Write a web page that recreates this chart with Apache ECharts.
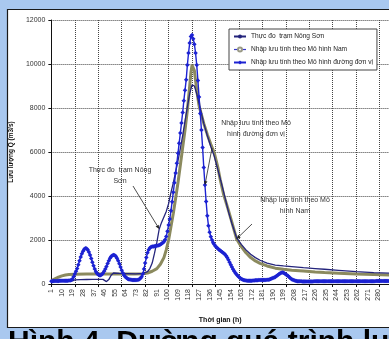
<!DOCTYPE html>
<html><head><meta charset="utf-8">
<script src="https://cdn.jsdelivr.net/npm/echarts@6/dist/echarts.min.js"></script>
<style>html,body{margin:0;padding:0;background:#a9c8ef;overflow:hidden}#c{width:389px;height:339px}</style>
</head><body><div id="c"></div>
<script>
// ---- data (x = hour index, axis label = index + 1) ----
const seriesNames = ['Thực đo  trạm Nông Sơn', 'Nhập lưu tính theo Mô hình Nam', 'Nhập lưu tính theo Mô hình đường đơn vị'];
const yTicks = [0, 2000, 4000, 6000, 8000, 10000, 12000];
const xLabelStep = 9;      // labels 1, 10, 19, ...
const xGridStep = 20;      // tick marks / gridlines
const xMaxIndex = 288;
const yAxisName = 'Lưu lượng Q (m3/s)';
const xAxisName = 'Thời gian (h)';

// unit-hydrograph model, hourly values
const unitQ = [
 130,130,135,135,140,140,140,145,145,150,
 150,150,150,150,150,155,160,180,230,330,
 450,580,700,880,1060,1230,1370,1490,1580,1620,
 1610,1560,1460,1320,1160,990,830,680,560,480,
 430,400,400,430,490,580,680,800,930,1060,
 1170,1250,1300,1320,1310,1260,1170,1060,920,770,
 620,500,400,330,280,240,215,200,190,185,
 180,180,180,185,195,220,260,330,460,680,
 950,1200,1420,1560,1640,1680,1700,1710,1720,1730,
 1740,1750,1770,1800,1830,1870,1920,2010,2160,2400,
 2680,2960,3330,3740,4170,4600,5040,5490,5940,6400,
 6860,7320,7800,8330,8810,9280,9950,10500,10950,11250,
 11320,11150,10900,10500,9950,9250,8500,7750,7000,6200,
 5300,4500,3750,3100,2650,2350,2150,2000,1880,1790,
 1720,1660,1610,1560,1520,1480,1440,1400,1350,1280,
 1200,1100,990,880,770,670,580,500,430,370,
 320,270,230,200,180,165,155,150,150,150,
 150,150,155,160,165,170,175,180,180,180,
 180,180,180,185,190,195,210,230,250,270,
 290,320,360,400,440,480,510,520,510,480,
 440,400,360,310,260,220,190,170,150,140,
 130,125,120,120,115,115,115,115,115,115,
 115,115,118,118,120,120,120,120,120,120,
 120,120,122,122,122,122,122,124,124,124,
 124,124,125,125,125,125,125,126,126,126,
 126,126,127,127,127,127,128,128,128,128,
 128,128,128,129,129,129,129,129,130,130,
 130,130,130,130,130,130,130,131,131,131,
 131,131,131,132,132,132,132,132,132
];

// Nam model
const namT = [0,3,6,9,12,15,20,30,40,50,60,70,78,82,86,90,93,96,98,100,102,104,106,108,110,112,114,116,118,119,120,121,122,124,126,128,130,133,136,139,142,144,147,151,154,158,162,166,170,174,178,184,191,198,205,215,225,233,245,260,275,288];
const namQ = [150,230,310,370,410,430,440,450,450,460,460,460,470,500,580,700,900,1200,1550,2000,2600,3200,3900,4600,5400,6200,7000,7900,9000,9600,9950,9900,9700,8800,8100,7700,7300,6800,6350,5950,5300,4750,4050,3360,2800,2050,1700,1420,1200,1050,940,820,720,670,630,590,550,520,490,450,430,410];

// observed at Nông Sơn
const obsT = [0,5,10,15,18,20,25,30,35,40,44,45,47,49,51,53,58,65,72,78,82,84,86,88,90,92,94,96,98,100,102,104,106,108,110,112,114,116,118,120,121,122,124,126,128,130,133,136,139,142,145,148,151,154,158,162,166,170,174,178,184,191,198,205,215,225,233,245,260,275,288];
const obsQ = [120,120,125,130,140,190,200,205,210,210,210,150,110,200,400,500,480,470,460,480,560,700,950,1400,1900,2500,2800,3050,3300,3650,4150,4600,5100,5600,6150,6750,7400,8050,8650,9050,9100,9000,8650,8200,7750,7300,6750,6250,5800,5200,4600,3950,3300,2750,2100,1800,1550,1350,1200,1080,950,860,820,790,740,700,670,620,560,520,490];

// ---- chart ----
const FONT = 'Liberation Sans';
const chart = echarts.init(document.getElementById('c'), null, {renderer: 'canvas'});
const dotted = {color: '#444', width: 1, type: [1, 1]};
const grid = {left: 43, top: 20, width: 346.8, height: 264};

chart.setOption({
  animation: false,
  textStyle: {fontFamily: FONT},
  grid: grid,
  legend: {
    orient: 'vertical', left: 229, top: 29,
    padding: [4, 4, 4, 4], itemGap: 6, itemWidth: 12, itemHeight: 5,
    backgroundColor: '#fff', borderColor: '#444', borderWidth: 1,
    textStyle: {fontSize: 6.6, color: '#222', fontFamily: FONT},
    data: [
      {name: seriesNames[0]},
      {name: seriesNames[1], lineStyle: {color: '#3636c8', width: 1.2}, itemStyle: {color: '#9a9a86'}},
      {name: seriesNames[2]}
    ]
  },
  xAxis: [
    {
      type: 'value', min: 0, max: xMaxIndex, interval: xLabelStep,
      name: xAxisName, nameLocation: 'middle', nameGap: 33,
      nameTextStyle: {fontSize: 7, fontWeight: 'bold', color: '#111', fontFamily: FONT},
      axisLine: {show: true, lineStyle: {color: '#111', width: 1}},
      axisTick: {show: false}, splitLine: {show: false},
      axisLabel: {rotate: 90, fontSize: 7, color: '#333', margin: 5, showMaxLabel: false,
                  formatter: v => String(v + 1)}
    },
    {
      type: 'value', min: 0, max: xMaxIndex, interval: xGridStep, position: 'bottom',
      axisLine: {show: false}, axisLabel: {show: false},
      axisTick: {show: true, length: 3, inside: false, lineStyle: {color: '#111'}},
      splitLine: {show: true, lineStyle: dotted}
    }
  ],
  yAxis: {
    type: 'value', min: yTicks[0], max: yTicks[yTicks.length - 1], interval: yTicks[1] - yTicks[0],
    name: yAxisName, nameLocation: 'middle', nameGap: 25, nameRotate: 90,
    nameTextStyle: {fontSize: 6.5, fontWeight: 'bold', color: '#111', fontFamily: FONT},
    axisLine: {show: true, lineStyle: {color: '#111', width: 1}},
    axisTick: {show: true, length: 3, lineStyle: {color: '#111'}},
    splitLine: {show: true, lineStyle: dotted},
    axisLabel: {fontSize: 7, color: '#333', margin: 6, formatter: v => String(v)}
  },
  series: [
    {
      name: seriesNames[1], type: 'line', z: 3,
      data: namT.map((t, i) => [t, namQ[i]]),
      symbol: 'emptyCircle', symbolSize: 3, showSymbol: false,
      lineStyle: {color: '#8b8a5e', width: 3}, itemStyle: {color: '#8b8a5e'}
    },
    {
      name: seriesNames[0], type: 'line', z: 4,
      data: obsT.map((t, i) => [t, obsQ[i]]),
      symbol: 'none',
      lineStyle: {color: '#24247c', width: 1.3}, itemStyle: {color: '#24247c'}
    },
    {
      name: seriesNames[2], type: 'line', z: 5,
      data: unitQ.map((q, i) => [i, q]),
      symbol: 'diamond', symbolSize: 4.5,
      lineStyle: {color: '#1c22d2', width: 1.4}, itemStyle: {color: '#1c22d2'}
    }
  ]
});

function px(t, q) { return chart.convertToPixel({xAxisIndex: 0, yAxisIndex: 0}, [t, q]); }
function arrow(from, to) {
  const dx = to[0] - from[0], dy = to[1] - from[1];
  const L = Math.sqrt(dx * dx + dy * dy), ux = dx / L, uy = dy / L;
  const s = 4, w = 1.8;
  const bx = to[0] - ux * s, by = to[1] - uy * s;
  return [
    {type: 'line', z: 50, shape: {x1: from[0], y1: from[1], x2: bx, y2: by}, style: {stroke: '#222', lineWidth: 0.8}},
    {type: 'polygon', z: 50, shape: {points: [[to[0], to[1]], [bx - uy * w, by + ux * w], [bx + uy * w, by - ux * w]]}, style: {fill: '#222'}}
  ];
}
const annStyle = {fontSize: 7, fill: '#333', fontFamily: FONT, align: 'center', lineHeight: 11};
const oi = obsT.indexOf(92), ni = namT.indexOf(158), ui = 131;
const gfx = [
  {type: 'rect', z: -100, silent: true, shape: {x: 7.5, y: 9.5, width: 400, height: 318}, style: {fill: '#fff', stroke: '#1a1a1a', lineWidth: 1.2}},
  {type: 'text', z: 50, x: 120, y: 165, style: Object.assign({text: 'Thực đo  trạm Nông\nSơn'}, annStyle)},
  {type: 'text', z: 50, x: 256, y: 118, style: Object.assign({text: 'Nhập lưu tính theo Mô\nhình đường đơn vị'}, annStyle)},
  {type: 'text', z: 50, x: 295, y: 195, style: Object.assign({text: 'Nhập lưu tính theo Mô\nhình Nam'}, annStyle)},
  {type: 'text', z: 60, x: 8, y: 328, style: {text: 'Hình 4. Đường quá trình lưu lượng', fontSize: 30, fontWeight: 'bold', fill: '#000', fontFamily: FONT}}
]
  .concat(arrow([133, 186], px(obsT[oi], obsQ[oi])))
  .concat(arrow([212, 148], px(ui, unitQ[ui])))
  .concat(arrow([252, 224], px(namT[ni], namQ[ni])));
chart.setOption({graphic: gfx});
</script></body></html>
